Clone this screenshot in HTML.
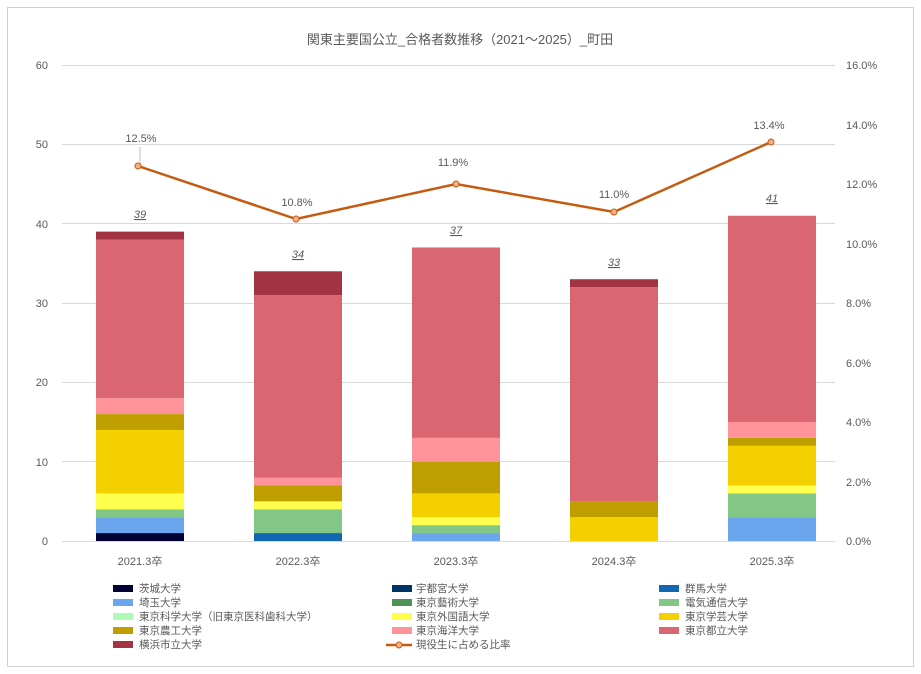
<!DOCTYPE html>
<html><head><meta charset="utf-8"><style>
body{margin:0;background:#fff}
svg{display:block;font-family:"Liberation Sans","Noto Sans CJK JP",sans-serif}
</style></head><body>
<svg width="921" height="674" xmlns="http://www.w3.org/2000/svg">
<rect x="0" y="0" width="921" height="674" fill="#fff"/>
<rect x="7.5" y="7.5" width="906" height="659" fill="#fff" stroke="#d0d0d0"/>
<text x="460" y="44" font-size="13" fill="#595959" text-anchor="middle">関東主要国公立_合格者数推移（2021～2025）_町田</text>
<g stroke="#d9d9d9" stroke-width="1">
<line x1="62" x2="835" y1="65.5" y2="65.5"/><line x1="62" x2="835" y1="144.5" y2="144.5"/>
<line x1="62" x2="835" y1="223.5" y2="223.5"/><line x1="62" x2="835" y1="303.5" y2="303.5"/>
<line x1="62" x2="835" y1="382.5" y2="382.5"/><line x1="62" x2="835" y1="461.5" y2="461.5"/>
<line x1="62" x2="835" y1="541.5" y2="541.5"/>
</g>
<g font-size="11" fill="#595959" text-anchor="end">
<text x="48" y="69">60</text><text x="48" y="148">50</text><text x="48" y="228">40</text>
<text x="48" y="307">30</text><text x="48" y="386">20</text><text x="48" y="466">10</text><text x="48" y="545">0</text>
</g>
<g font-size="11" fill="#595959" text-anchor="start">
<text x="846" y="69">16.0%</text><text x="846" y="129">14.0%</text><text x="846" y="188">12.0%</text>
<text x="846" y="248">10.0%</text><text x="846" y="307">8.0%</text><text x="846" y="367">6.0%</text>
<text x="846" y="426">4.0%</text><text x="846" y="486">2.0%</text><text x="846" y="545">0.0%</text>
</g>
<g id="bars"></g>
<g font-size="11" fill="#595959" text-anchor="middle">
<text x="140" y="565">2021.3卒</text><text x="298" y="565">2022.3卒</text><text x="456" y="565">2023.3卒</text>
<text x="614" y="565">2024.3卒</text><text x="772" y="565">2025.3卒</text>
</g>
<g font-size="11" fill="#595959" text-anchor="middle" font-style="italic" text-decoration="underline">
<text x="140" y="218">39</text><text x="298" y="258">34</text><text x="456" y="234">37</text>
<text x="614" y="266">33</text><text x="772" y="202">41</text>
</g>
<line x1="140" y1="147" x2="140" y2="163" stroke="#bfbfbf"/>
<polyline points="138,166 296,219 456,184 614,212 771,142" fill="none" stroke="#c55a11" stroke-width="2.5"/>
<g fill="#f4b183" stroke="#c55a11" stroke-width="1">
<circle cx="138" cy="166" r="3"/><circle cx="296" cy="219" r="3"/><circle cx="456" cy="184" r="3"/><circle cx="614" cy="212" r="3"/><circle cx="771" cy="142" r="3"/>
</g>
<g font-size="11" fill="#595959" text-anchor="middle">
<text x="141" y="142">12.5%</text><text x="297" y="206">10.8%</text><text x="453" y="166">11.9%</text>
<text x="614" y="198">11.0%</text><text x="769" y="129">13.4%</text>
</g>
<g font-size="10.5" fill="#595959">
<rect x="113" y="585" width="20" height="7" fill="#000033"/><text x="139" y="592">茨城大学</text>
<rect x="392" y="585" width="20" height="7" fill="#003366"/><text x="416" y="592">宇都宮大学</text>
<rect x="659" y="585" width="20" height="7" fill="#1167b1"/><text x="685" y="592">群馬大学</text>
<rect x="113" y="599" width="20" height="7" fill="#6aa5ee"/><text x="139" y="606">埼玉大学</text>
<rect x="392" y="599" width="20" height="7" fill="#4d9155"/><text x="416" y="606">東京藝術大学</text>
<rect x="659" y="599" width="20" height="7" fill="#82c785"/><text x="685" y="606">電気通信大学</text>
<rect x="113" y="613" width="20" height="7" fill="#b0fab8"/><text x="139" y="620">東京科学大学（旧東京医科歯科大学）</text>
<rect x="392" y="613" width="20" height="7" fill="#ffff4d"/><text x="416" y="620">東京外国語大学</text>
<rect x="659" y="613" width="20" height="7" fill="#f4d000"/><text x="685" y="620">東京学芸大学</text>
<rect x="113" y="627" width="20" height="7" fill="#bf9f00"/><text x="139" y="634">東京農工大学</text>
<rect x="392" y="627" width="20" height="7" fill="#ff939a"/><text x="416" y="634">東京海洋大学</text>
<rect x="659" y="627" width="20" height="7" fill="#d96670"/><text x="685" y="634">東京都立大学</text>
<rect x="113" y="641" width="20" height="7" fill="#a33343"/><text x="139" y="648">横浜市立大学</text>
<line x1="386" y1="645" x2="412" y2="645" stroke="#c55a11" stroke-width="2.5"/><circle cx="399" cy="645" r="3" fill="#f4b183" stroke="#c55a11"/><text x="416" y="648">現役生に占める比率</text>
</g>
</svg>
<script>
var C={ib:"#000033",gu:"#1167b1",sa:"#6aa5ee",de:"#82c785",ga:"#ffff4d",gk:"#f4d000",no:"#bf9f00",ka:"#ff939a",to:"#d96670",yo:"#a33343"};
var order=["ib","gu","sa","de","ga","gk","no","ka","to","yo"];
var data=[{x:96,v:{ib:1,sa:2,de:1,ga:2,gk:8,no:2,ka:2,to:20,yo:1}},
{x:254,v:{gu:1,de:3,ga:1,no:2,ka:1,to:23,yo:3}},
{x:412,v:{sa:1,de:1,ga:1,gk:3,no:4,ka:3,to:24}},
{x:570,v:{gk:3,no:2,to:27,yo:1}},
{x:728,v:{sa:3,de:3,ga:1,gk:5,no:1,ka:2,to:26}}];
var g=document.getElementById("bars"),s="";
data.forEach(function(d){var c=0;order.forEach(function(k){var v=d.v[k];if(!v)return;
var y1=541-c*7.933,y2=541-(c+v)*7.933;c+=v;
s+='<rect x="'+d.x+'" y="'+y2.toFixed(2)+'" width="88" height="'+(y1-y2).toFixed(2)+'" fill="'+C[k]+'"/>';});});
g.innerHTML=s;
</script>
</body></html>
